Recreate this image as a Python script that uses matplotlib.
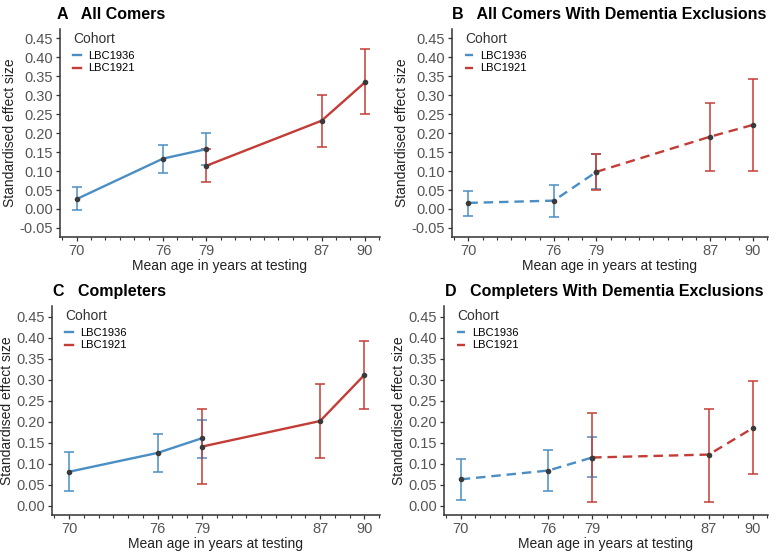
import matplotlib
matplotlib.use("Agg")
import matplotlib.pyplot as plt
from matplotlib.lines import Line2D
import numpy as np

plt.rcParams['font.family'] = ['Liberation Sans', 'DejaVu Sans']

ages_1936 = [70, 76, 79]
ages_1921 = [79, 87, 90]
tick_ages = [70, 76, 79, 87, 90]

# Panel A: All Comers
a36_est = [0.026, 0.133, 0.158]
a36_lo = [-0.004, 0.096, 0.115]
a36_hi = [0.057, 0.170, 0.201]
a21_est = [0.114, 0.233, 0.334]
a21_lo = [0.070, 0.164, 0.250]
a21_hi = [0.158, 0.300, 0.421]

# Panel B: All Comers With Dementia Exclusions
b36_est = [0.016, 0.022, 0.098]
b36_lo = [-0.018, -0.020, 0.052]
b36_hi = [0.048, 0.064, 0.144]
b21_est = [0.098, 0.191, 0.222]
b21_lo = [0.050, 0.100, 0.100]
b21_hi = [0.145, 0.280, 0.343]

# Panel C: Completers
c36_est = [0.081, 0.126, 0.161]
c36_lo = [0.034, 0.081, 0.114]
c36_hi = [0.127, 0.172, 0.205]
c21_est = [0.141, 0.202, 0.312]
c21_lo = [0.051, 0.115, 0.231]
c21_hi = [0.231, 0.291, 0.393]

# Panel D: Completers With Dementia Exclusions
d36_est = [0.063, 0.084, 0.115]
d36_lo = [0.013, 0.034, 0.068]
d36_hi = [0.112, 0.132, 0.163]
d21_est = [0.115, 0.122, 0.185]
d21_lo = [0.008, 0.010, 0.075]
d21_hi = [0.221, 0.231, 0.297]

BLUE = "#4A8EC4"
RED = "#C43C36"
PT = "#3a3a3a"
GRAY = "#555555"

fig = plt.figure(figsize=(7.8, 5.54), dpi=100)
W, H = 780, 554

def add_ax(l, r, t, b):
    return fig.add_axes([l / W, 1 - b / H, (r - l) / W, (b - t) / H])

panels = [
    dict(box=(60, 380, 29, 237), tx=57, letter="A", title="All Comers",
         d36=(a36_est, a36_lo, a36_hi), d21=(a21_est, a21_lo, a21_hi),
         ls="-", yticks=np.arange(-0.05, 0.451, 0.05), ylim=(-0.074, 0.475)),
    dict(box=(452, 768, 29, 237), tx=452, letter="B", title="All Comers With Dementia Exclusions",
         d36=(b36_est, b36_lo, b36_hi), d21=(b21_est, b21_lo, b21_hi),
         ls=(0, (4, 2.5)), yticks=np.arange(-0.05, 0.451, 0.05), ylim=(-0.074, 0.475)),
    dict(box=(52, 380, 306, 515), tx=53, letter="C", title="Completers",
         d36=(c36_est, c36_lo, c36_hi), d21=(c21_est, c21_lo, c21_hi),
         ls="-", yticks=np.arange(0.0, 0.451, 0.05), ylim=(-0.022, 0.476)),
    dict(box=(444, 768, 306, 515), tx=445, letter="D", title="Completers With Dementia Exclusions",
         d36=(d36_est, d36_lo, d36_hi), d21=(d21_est, d21_lo, d21_hi),
         ls=(0, (4, 2.5)), yticks=np.arange(0.0, 0.451, 0.05), ylim=(-0.022, 0.476)),
]

for p in panels:
    l, r, t, b = p["box"]
    ax = add_ax(l, r, t, b)
    pw, ph = r - l, b - t
    for ages, (est, lo, hi), col in ((ages_1936, p["d36"], BLUE), (ages_1921, p["d21"], RED)):
        est = np.array(est); lo = np.array(lo); hi = np.array(hi)
        ax.errorbar(ages, est, yerr=[est - lo, hi - est], fmt='none', ecolor=col,
                    elinewidth=1.1, capsize=3.8, capthick=1.1, zorder=2)
        ax.plot(ages, est, color=col, lw=1.7, linestyle=p["ls"], zorder=3)
        ax.scatter(ages, est, s=9, color=PT, zorder=4)
    ax.set_xlim(68.85, 91.05)
    ax.set_ylim(*p["ylim"])
    ax.set_xticks(tick_ages)
    ax.set_xticks(np.arange(69, 92, 1), minor=True)
    ax.set_yticks(p["yticks"])
    ax.set_yticklabels([f"{v:.2f}".replace("-0.00", "0.00") for v in p["yticks"]])
    for s in ("top", "right"):
        ax.spines[s].set_visible(False)
    for s in ("left", "bottom"):
        ax.spines[s].set_color("#333333")
        ax.spines[s].set_linewidth(1.1)
    ax.tick_params(axis="both", which="major", length=3, width=0.9, color="#333333",
                   labelsize=10.5, labelcolor=GRAY, pad=2)
    ax.tick_params(axis="x", which="minor", length=2.5, width=0.8, color="#333333")
    ax.set_xlabel("Mean age in years at testing", fontsize=10, color="#222222", labelpad=1)
    ax.set_ylabel("Standardised effect size", fontsize=10, color="#222222", labelpad=2)
    # legend title
    ax.text(13 / pw, 1 - 10 / ph, "Cohort", transform=ax.transAxes, fontsize=10,
            color="#333333", ha="left", va="center")
    handles = [Line2D([0], [0], color=BLUE, lw=1.7, linestyle=p["ls"]),
               Line2D([0], [0], color=RED, lw=1.7, linestyle=p["ls"])]
    ax.legend(handles, ["LBC1936", "LBC1921"], loc="upper left",
              bbox_to_anchor=(13 / pw, 1 - 22 / ph), frameon=False, fontsize=8,
              handlelength=0.7, handletextpad=0.7,
              labelspacing=0.22, borderaxespad=0, borderpad=0)
    fig.text(p["tx"] / W, 1 - (t - 10) / H, f"{p['letter']}   {p['title']}",
             fontsize=11.5, fontweight="bold", ha="left", va="baseline")

fig.savefig("out.png", dpi=100)
